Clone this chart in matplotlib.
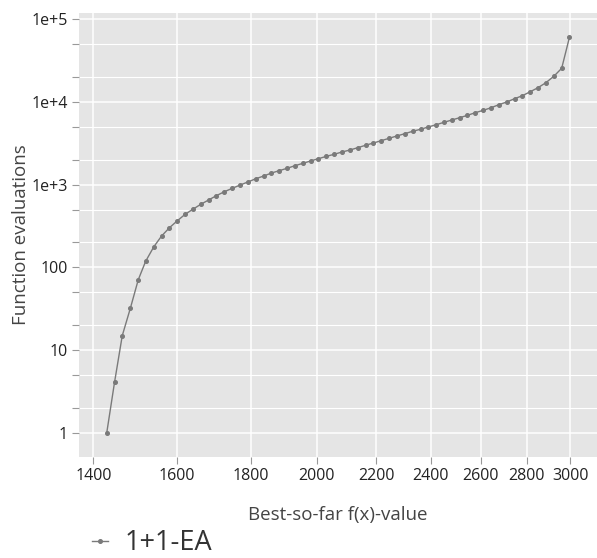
import matplotlib.pyplot as plt
from matplotlib.ticker import FixedLocator, NullFormatter, NullLocator

plt.rcParams.update({
    "font.family": ["Open Sans", "DejaVu Sans"],
    "font.size": 11,
})

# Best-so-far f(x)-value targets
best_so_far = [1430, 1448, 1466, 1485, 1504, 1522, 1542, 1561, 1581, 1601,
               1621, 1641, 1662, 1683, 1704, 1726, 1748, 1770, 1792, 1815,
               1838, 1861, 1884, 1908, 1932, 1957, 1981, 2006, 2032, 2057,
               2083, 2110, 2136, 2163, 2190, 2218, 2246, 2274, 2303, 2332,
               2362, 2391, 2422, 2452, 2483, 2514, 2546, 2578, 2611, 2644,
               2677, 2711, 2745, 2780, 2815, 2850, 2886, 2923, 2960, 2997]

# Function evaluations needed for the 1+1-EA
evals = [1, 4.1, 15, 32, 71, 119, 178, 239, 302, 366,
         438, 503, 578, 652, 735, 821, 902, 989, 1075, 1178,
         1270, 1380, 1472, 1574, 1691, 1808, 1928, 2055, 2197, 2322,
         2476, 2618, 2791, 2984, 3178, 3391, 3625, 3864, 4120, 4403,
         4657, 4965, 5289, 5654, 6026, 6424, 6869, 7387, 7894, 8483,
         9227, 9947, 10900, 11860, 13250, 14800, 17010, 20330, 25400, 60100]

x_ticks = [1400, 1600, 1800, 2000, 2200, 2400, 2600, 2800, 3000]
y_ticks = [1, 10, 100, 1e3, 1e4, 1e5]
y_tick_labels = ["1", "10", "100", "1e+3", "1e+4", "1e+5"]
y_minor = [m * 10 ** e for e in range(-1, 6) for m in (2, 5)]

fig = plt.figure(figsize=(5.97, 5.58), dpi=100)
ax = fig.add_axes([79 / 597, 1 - 457 / 558, 518 / 597, (457 - 12.7) / 558])
ax.set_facecolor("#e5e5e5")

ax.plot(best_so_far, evals, "-o", color="#7a7a7a", lw=1.0, ms=2.6,
        label="1+1-EA", zorder=3)

ax.set_xscale("log")
ax.set_yscale("log")
ax.set_xlim(1368, 3132)
ax.set_ylim(0.513, 119200)

ax.xaxis.set_major_locator(FixedLocator(x_ticks))
ax.xaxis.set_minor_locator(NullLocator())
ax.set_xticklabels([str(t) for t in x_ticks])
ax.xaxis.set_minor_formatter(NullFormatter())

ax.yaxis.set_major_locator(FixedLocator(y_ticks))
ax.set_yticklabels(y_tick_labels)
ax.yaxis.set_minor_locator(FixedLocator(y_minor))
ax.yaxis.set_minor_formatter(NullFormatter())

ax.grid(True, which="major", color="white", lw=1.1)
ax.grid(True, which="minor", axis="y", color="white", lw=0.8)
ax.set_axisbelow(True)

for s in ax.spines.values():
    s.set_visible(False)

ax.tick_params(which="both", direction="out", color="#999999", length=5,
               width=0.8, labelsize=11.5, labelcolor="#222222", pad=3)

ax.set_xlabel("Best-so-far f(x)-value", fontsize=13.5, color="#444444",
              labelpad=16)
ax.set_ylabel("Function evaluations", fontsize=13.5, color="#444444",
              labelpad=1)

fig.legend(loc="center left", bbox_to_anchor=(92 / 597, 1 - 543 / 558),
           frameon=False, fontsize=19.5, handlelength=0.6, handletextpad=0.6,
           borderpad=0, borderaxespad=0, labelcolor="#333333")

fig.savefig("out.png", dpi=100)
